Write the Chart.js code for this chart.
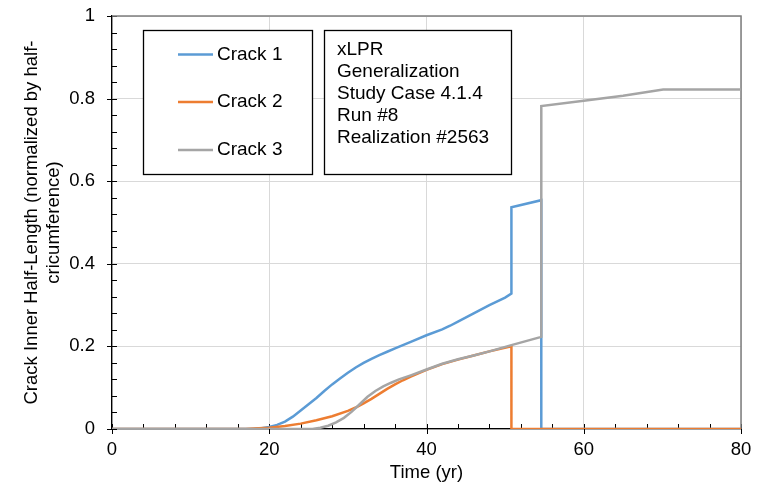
<!DOCTYPE html>
<html>
<head>
<meta charset="utf-8">
<script src="https://cdn.jsdelivr.net/npm/chart.js@4.4.1/dist/chart.umd.min.js"></script>
<style>
  body { margin: 0; background: #fff; }
  #wrap { width: 763px; height: 491px; position: relative; }
</style>
</head>
<body>
<div id="wrap"><canvas id="crackChart"></canvas></div>
<script>
// values (time in yr, normalized half-length)
const crack1Time = [0, 18, 19, 20, 21, 22, 23, 24, 25, 26, 27, 28, 29, 30, 31, 32, 33, 34, 35, 36, 38, 40, 42, 43, 44, 46, 48, 50, 50.8, 50.8, 54.6, 54.6, 80];
const crack1Len  = [0, 0, 0.002, 0.005, 0.01, 0.018, 0.03, 0.045, 0.06, 0.075, 0.092, 0.108, 0.122, 0.136, 0.149, 0.16, 0.17, 0.179, 0.187, 0.195, 0.211, 0.227, 0.241, 0.25, 0.26, 0.28, 0.3, 0.318, 0.328, 0.537, 0.554, 0, 0];

const crack2Time = [0, 17, 18, 20, 22, 24, 26, 28, 30, 31, 32, 33, 34, 35, 36, 37, 38, 40, 42, 44, 46, 48, 50.8, 50.8, 80];
const crack2Len  = [0, 0, 0.001, 0.003, 0.007, 0.013, 0.021, 0.031, 0.044, 0.052, 0.062, 0.073, 0.085, 0.097, 0.108, 0.118, 0.127, 0.143, 0.157, 0.168, 0.178, 0.188, 0.2, 0, 0];

const crack3Time = [0, 25.5, 26.5, 27.5, 28.5, 29.5, 30.5, 31.5, 32.5, 33.5, 34.5, 35.5, 36.5, 38, 40, 42, 44, 46, 48, 50.8, 54.6, 54.6, 60, 65, 70.1, 80];
const crack3Len  = [0, 0, 0.003, 0.008, 0.016, 0.027, 0.042, 0.06, 0.078, 0.092, 0.103, 0.112, 0.12, 0.13, 0.144, 0.158, 0.169, 0.178, 0.188, 0.203, 0.223, 0.782, 0.795, 0.807, 0.822, 0.822];

const seriesNames = ['Crack 1', 'Crack 2', 'Crack 3'];
const seriesColors = ['#5b9bd5', '#ed7d31', '#a5a5a5'];
const noteLines = ['xLPR', 'Generalization', 'Study Case 4.1.4', 'Run #8', 'Realization #2563'];

const xMinorStep = 4, yMinorStep = 0.04;

function pts(xs, ys) {
  return xs.map((x, i) => ({x: x, y: ys[i]}));
}

// minor/major tick marks and plot frame
const axisMarks = {
  id: 'axisMarks',
  beforeDatasetsDraw(chart) {
    const {ctx, chartArea: a, scales: {x, y}} = chart;
    ctx.save();
    ctx.strokeStyle = '#000';
    ctx.lineWidth = 1;
    ctx.beginPath();
    for (let v = 0; v <= 80.001; v += xMinorStep) {
      const px = Math.round(x.getPixelForValue(v)) + 0.5;
      const major = Math.abs(v % 20) < 1e-6;
      ctx.moveTo(px, a.bottom - 5);
      ctx.lineTo(px, major ? a.bottom + 5 : a.bottom);
    }
    for (let v = 0; v <= 1.0001; v += yMinorStep) {
      const py = Math.round(y.getPixelForValue(v)) + 0.5;
      const major = Math.abs(Math.round(v * 100) % 20) < 1e-6;
      ctx.moveTo(a.left + 5, py);
      ctx.lineTo(major ? a.left - 5 : a.left, py);
    }
    ctx.stroke();
    ctx.strokeStyle = '#7f7f7f';
    ctx.lineWidth = 1.5;
    ctx.beginPath();
    ctx.moveTo(a.left, a.top);
    ctx.lineTo(a.right, a.top);
    ctx.lineTo(a.right, a.bottom);
    ctx.stroke();
    ctx.restore();
  },
  afterDraw(chart) {
    const ctx = chart.ctx;
    ctx.save();
    ctx.lineWidth = 1.3;
    ctx.strokeStyle = '#000';
    ctx.fillStyle = '#fff';
    // legend box
    ctx.fillRect(143.5, 30.5, 169, 144);
    ctx.strokeRect(143.5, 30.5, 169, 144);
    // note box
    ctx.fillRect(324.5, 30.5, 187, 144);
    ctx.strokeRect(324.5, 30.5, 187, 144);

    ctx.font = '19px "Liberation Sans", Arial, sans-serif';
    ctx.textBaseline = 'middle';
    ctx.textAlign = 'left';
    const legY = [54.5, 102, 150];
    seriesNames.forEach((name, i) => {
      ctx.strokeStyle = seriesColors[i];
      ctx.lineWidth = 2.5;
      ctx.beginPath();
      ctx.moveTo(178, legY[i]);
      ctx.lineTo(213, legY[i]);
      ctx.stroke();
      ctx.fillStyle = '#000';
      ctx.fillText(name, 217, legY[i]);
    });
    ctx.fillStyle = '#000';
    noteLines.forEach((t, i) => {
      ctx.fillText(t, 337, 49.5 + i * 22.1);
    });
    ctx.restore();
  }
};

const font = {family: '"Liberation Sans", Arial, sans-serif', size: 18.5};

new Chart(document.getElementById('crackChart'), {
  type: 'line',
  data: {
    datasets: [
      {label: seriesNames[0], data: pts(crack1Time, crack1Len), borderColor: seriesColors[0], order: 3},
      {label: seriesNames[1], data: pts(crack2Time, crack2Len), borderColor: seriesColors[1], order: 2},
      {label: seriesNames[2], data: pts(crack3Time, crack3Len), borderColor: seriesColors[2], order: 1}
    ]
  },
  options: {
    responsive: true,
    maintainAspectRatio: false,
    animation: false,
    events: [],
    layout: {padding: {top: 16, right: 22, left: 0, bottom: 0}},
    elements: {
      point: {radius: 0},
      line: {borderWidth: 2.5, tension: 0, fill: false}
    },
    plugins: {legend: {display: false}, tooltip: {enabled: false}},
    scales: {
      x: {
        type: 'linear',
        min: 0, max: 80,
        ticks: {stepSize: 20, color: '#000', font: font, padding: 10, maxRotation: 0},
        grid: {color: '#d9d9d9', drawTicks: false},
        border: {color: '#000', width: 1.3},
        title: {display: true, text: 'Time (yr)', color: '#000', font: font, padding: {top: 0, bottom: 7}},
        afterFit(scale) { scale.height = 62; }
      },
      y: {
        min: 0, max: 1,
        ticks: {
          stepSize: 0.2, color: '#000', font: font, padding: 17,
          callback: v => String(Math.round(v * 10) / 10)
        },
        grid: {color: '#d9d9d9', drawTicks: false},
        border: {color: '#000', width: 1.3},
        title: {
          display: true,
          text: ['Crack Inner Half-Length (normalized by half-', 'cricumference)'],
          color: '#000', font: font, padding: {top: 21, bottom: 0}
        },
        afterFit(scale) {
          scale.width = 112;
          scale.paddingTop = 0;
          scale.paddingBottom = 0;
        }
      }
    }
  },
  plugins: [axisMarks]
});
</script>
</body>
</html>
